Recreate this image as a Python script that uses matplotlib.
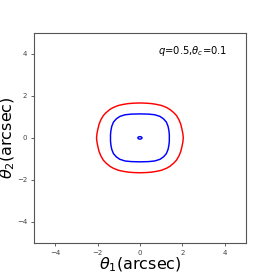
import matplotlib
matplotlib.use("Agg")
import matplotlib.pyplot as plt
from matplotlib.patches import Polygon
import numpy as np

# Quadrant points (x >= 0, y >= 0), data units (arcsec)
red_qx = [0.0, 0.3, 0.55, 0.8, 1.02, 1.25, 1.42, 1.6, 1.73, 1.85, 1.93, 1.99, 2.03, 2.05]
red_qy = [1.66, 1.65, 1.63, 1.59, 1.54, 1.45, 1.35, 1.2, 1.06, 0.85, 0.65, 0.4, 0.2, 0.0]

blue_qx = [0.0, 0.4, 0.7, 0.95, 1.12, 1.25, 1.33, 1.37, 1.39, 1.39]
blue_qy = [1.14, 1.13, 1.1, 1.02, 0.9, 0.75, 0.55, 0.35, 0.15, 0.0]

core_qx = [0.0, 0.05, 0.08, 0.1]
core_qy = [0.06, 0.05, 0.035, 0.0]

ticks = [-4, -2, 0, 2, 4]
label_text = r"$q$=0.5,$\theta_c$=0.1"


def closed(qx, qy):
    qx = np.asarray(qx); qy = np.asarray(qy)
    x = np.concatenate([qx, qx[::-1][1:], -qx[1:], -qx[::-1][1:-1]])
    y = np.concatenate([qy, -qy[::-1][1:], -qy[1:], qy[::-1][1:-1]])
    return np.column_stack([x, y])


fig = plt.figure(figsize=(2.73, 2.73), dpi=100)
ax = fig.add_subplot(111)

for qx, qy, c in [(red_qx, red_qy, "red"), (blue_qx, blue_qy, "blue"),
                  (core_qx, core_qy, "blue")]:
    ax.add_patch(Polygon(closed(qx, qy), closed=True, fill=False,
                         edgecolor=c, lw=1.05, joinstyle="round"))

ax.set_xlim(-5, 5)
ax.set_ylim(-5, 5)
ax.set_xticks(ticks)
ax.set_yticks(ticks)
ax.tick_params(labelsize=5, length=2.5, width=0.6, colors="#444444", pad=2.5)
for s in ax.spines.values():
    s.set_color("#555555")
    s.set_linewidth(0.8)

ax.set_xlabel(r"$\theta_1$(arcsec)", fontsize=11.5, labelpad=0)
ax.set_ylabel(r"$\theta_2$(arcsec)", fontsize=11.5, labelpad=0)
ax.text(0.85, 4.0, label_text, fontsize=7.2)

fig.subplots_adjust(left=0.125, right=0.9, bottom=0.11, top=0.88)
fig.savefig("out.png", dpi=100)
